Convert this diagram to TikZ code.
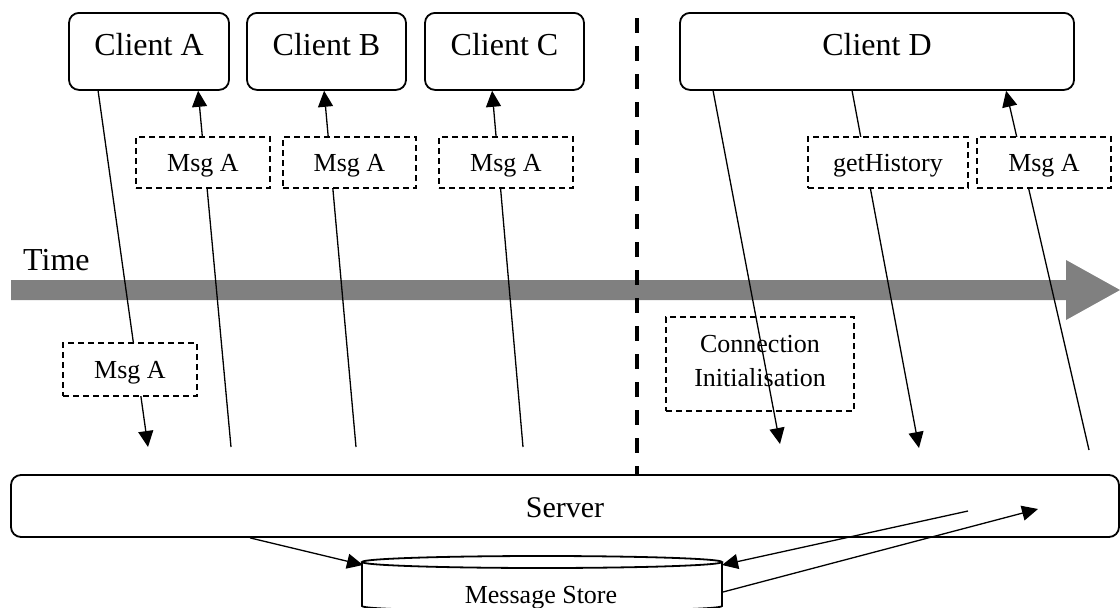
\documentclass[tikz,border=0pt]{standalone}
\usepackage{fontspec}
\setmainfont{Liberation Serif}
\usetikzlibrary{arrows.meta,calc}
\pgfdeclarelayer{bg}
\pgfsetlayers{bg,main}
\definecolor{timegray}{HTML}{808080}
\begin{document}
\begin{tikzpicture}[x=1pt,y=-1pt,
  boxline/.style={line width=1.8pt},
  client/.style={draw, boxline, rounded corners=10pt, inner sep=0pt, anchor=north,
    font=\fontsize{32}{38}\selectfont, text height=43pt, text depth=34pt},
  msgbox/.style={draw, line width=1.6pt, dash pattern=on 6pt off 4pt, fill=white,
    inner sep=0pt, font=\fontsize{26}{31}\selectfont, text height=17pt, text depth=0pt,
    minimum height=51pt},
  link/.style={line width=1.3pt},
  sendto/.style={link, -{Triangle[length=16pt,width=15pt]}},
  divider/.style={line width=3.5pt, dash pattern=on 15pt off 13pt},
]
\useasboundingbox (0,0) rectangle (1120,608);

% clients
\node[client, minimum width=160pt] (cA) at (149,12) {Client A};
\node[client, minimum width=159pt] (cB) at (326.5,12) {Client B};
\node[client, minimum width=159pt] (cC) at (504.5,12) {Client C};
\node[client, minimum width=394pt] (cD) at (877,12) {Client D};

% messages in transit
\node[msgbox, minimum width=134pt] (m1) at (203,162.5) {Msg A};
\node[msgbox, minimum width=133pt] (m2) at (349.5,162.5) {Msg A};
\node[msgbox, minimum width=134pt] (m3) at (506,162.5) {Msg A};
\node[msgbox, minimum width=160pt] (gh) at (888,162.5) {getHistory};
\node[msgbox, minimum width=134pt] (m4) at (1044,162.5) {Msg A};
\node[msgbox, minimum width=134pt, minimum height=53pt] (m5) at (130,369.5) {Msg A};

% connection set-up
\node[draw, line width=1.6pt, dash pattern=on 6pt off 4pt, minimum width=188pt,
  minimum height=94pt] (connbox) at (760,364) {};
\node[align=center, font=\fontsize{26}{34}\selectfont, yshift=3pt] (conn) at (760,364)
  {Connection\\Initialisation};

% time label
\node[anchor=base west, inner sep=0pt, font=\fontsize{32}{38}\selectfont] (time) at (23,270) {Time};

% server
\node[draw, boxline, rounded corners=10pt, inner sep=0pt, minimum width=1108pt,
  minimum height=62pt, font=\fontsize{30}{36}\selectfont, text height=22pt,
  text depth=0pt] (server) at (565,506) {Server};

% message store cylinder
\coordinate (storeC) at (542,562);
\draw[boxline, fill=white] (362,562) -- (362,606)
  .. controls (362,612.7) and (722,612.7) .. (722,606) -- (722,562);
\draw[boxline, fill=white] (storeC) ellipse [x radius=180, y radius=6];
\node[anchor=base, inner sep=0pt, font=\fontsize{26}{31}\selectfont] (store) at (541,603) {Message Store};

% free ends of the connectors
\coordinate (sA) at (148,447);
\coordinate (s1) at (231,447);
\coordinate (s2) at (356,447);
\coordinate (s3) at (523,447);
\coordinate (sD1) at (780,444);
\coordinate (sD2) at (919,448);
\coordinate (sD3) at (1089,450);
\coordinate (srvIn1) at (968,511);
\coordinate (srvIn2) at (1038,509);
\coordinate (storeL) at (363,565);
\coordinate (storeR) at (722,565);
\coordinate (storeR2) at (723,592);
\coordinate (divTop) at (637,18);
\coordinate (divBot) at (637,475);

\begin{pgfonlayer}{bg}
  % time axis
  \fill[timegray] (11,280) -- (1066,280) -- (1066,260) -- (1120,290)
    -- (1066,320) -- (1066,300) -- (11,300) -- cycle;
  % separator
  \draw[divider] (divTop) -- (divBot);
  % client / server traffic
  \draw[sendto] ($(cA.south west)+(30,0)$) -- (sA);
  \draw[sendto] (s1) -- ($(cA.south west)+(130,0)$);
  \draw[sendto] (s2) -- ($(cB.south west)+(78,0)$);
  \draw[sendto] (s3) -- ($(cC.south west)+(68,0)$);
  \draw[sendto] ($(cD.south west)+(34,0)$) -- (sD1);
  \draw[sendto] ($(cD.south west)+(173,0)$) -- (sD2);
  \draw[sendto] (sD3) -- ($(cD.south west)+(327,0)$);
\end{pgfonlayer}

% server / store traffic
\draw[sendto] ($(server.south west)+(240,0)$) -- (storeL);
\draw[sendto] (srvIn1) -- (storeR);
\draw[sendto] (storeR2) -- (srvIn2);
\end{tikzpicture}
\end{document}
